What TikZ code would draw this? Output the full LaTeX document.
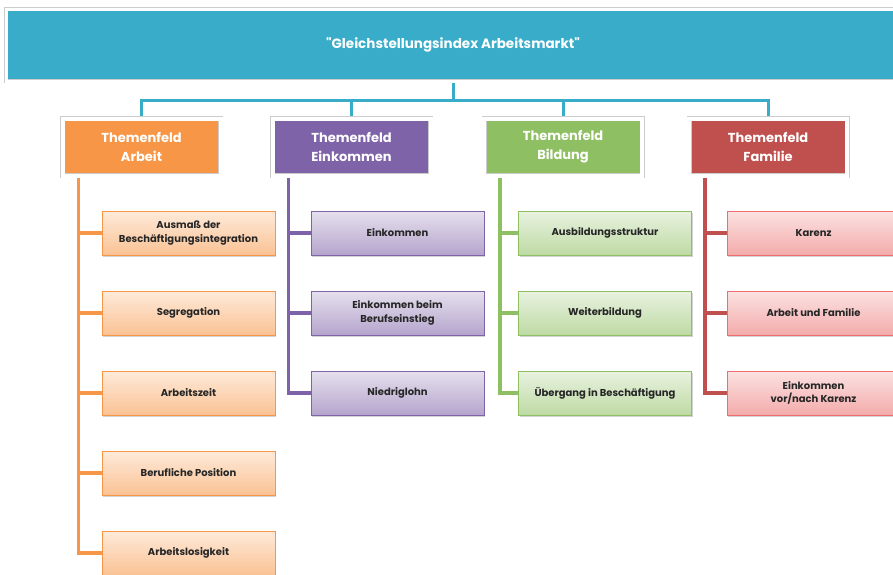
\documentclass[tikz,border=0pt]{standalone}
\usepackage{fontspec}
\setmainfont{Poppins}[Ligatures=TeXOff]
\usetikzlibrary{positioning,shadows,backgrounds}
\definecolor{titelfarbe}{HTML}{38ACC8}
\definecolor{arbeitfarbe}{HTML}{F79646}
\definecolor{einkommenfarbe}{HTML}{7F63A8}
\definecolor{bildungfarbe}{HTML}{8FBF63}
\definecolor{familiefarbe}{HTML}{C0504D}
\definecolor{familiehell}{HTML}{EC6E6E}
\definecolor{textgrau}{HTML}{262626}
\tikzset{
  titelbox/.style={rectangle, fill=titelfarbe, draw=black!20, double=white, double distance=3pt,
    line width=0.5pt, minimum width=894pt, minimum height=72pt, outer sep=0pt, text=white,
    font=\bfseries\fontsize{13.5}{16}\selectfont, drop shadow={opacity=0.35, shadow xshift=1pt, shadow yshift=-2pt}},
  feldbox/.style={rectangle, draw=black!20, double=white, double distance=4pt, line width=0.5pt,
    minimum width=158pt, minimum height=57pt, outer sep=0pt, align=center, text=white,
    font=\bfseries\fontsize{13}{19}\selectfont, drop shadow={opacity=0.35, shadow xshift=1pt, shadow yshift=-2pt}},
  themabox/.style={rectangle, draw=#1, top color=#1!20, bottom color=#1!58, line width=1pt,
    minimum width=173pt, minimum height=44pt, outer sep=0pt, align=center, text=textgrau,
    font=\bfseries\fontsize{10}{13.5}\selectfont, drop shadow={opacity=0.35, shadow xshift=1pt, shadow yshift=-2pt}},
  linie/.style={draw=#1, line width=3.5pt},
}
\begin{document}
\begin{tikzpicture}[x=1pt, y=-1pt, node distance=80pt]
    \useasboundingbox (0,0) rectangle (893,574);
    \node[titelbox] (titel) at (453,45) {"Gleichstellungsindex Arbeitsmarkt"};
    \node[feldbox, fill=arbeitfarbe] (arbeit) at (141.5,147) {Themenfeld\\Arbeit};
    \node[feldbox, fill=einkommenfarbe] (einkommen) at (351.5,147) {Themenfeld\\Einkommen};
    \node[feldbox, fill=bildungfarbe] (bildung) at (563,147) {Themenfeld\\Bildung};
    \node[feldbox, fill=familiefarbe] (familie) at (768,147) {Themenfeld\\Familie};

    \node[themabox=arbeitfarbe] (ausmass) at (188.5,233) {Ausmaß der\\Beschäftigungsintegration};
    \node[themabox=arbeitfarbe, below of=ausmass] (segregation) {Segregation};
    \node[themabox=arbeitfarbe, below of=segregation] (arbeitszeit) {Arbeitszeit};
    \node[themabox=arbeitfarbe, below of=arbeitszeit] (position) {Berufliche Position};
    \node[themabox=arbeitfarbe, below of=position] (arbeitslos) {Arbeitslosigkeit};

    \node[themabox=einkommenfarbe] (eink) at (397.5,233) {Einkommen};
    \node[themabox=einkommenfarbe, below of=eink] (einstieg) {Einkommen beim\\Berufseinstieg};
    \node[themabox=einkommenfarbe, below of=einstieg] (niedriglohn) {Niedriglohn};

    \node[themabox=bildungfarbe] (struktur) at (605,233) {Ausbildungsstruktur};
    \node[themabox=bildungfarbe, below of=struktur] (weiter) {Weiterbildung};
    \node[themabox=bildungfarbe, below of=weiter] (uebergang) {Übergang in Beschäftigung};

    \node[themabox=familiehell] (karenz) at (813.5,233) {Karenz};
    \node[themabox=familiehell, below of=karenz] (arbfam) {Arbeit und Familie};
    \node[themabox=familiehell, below of=arbfam] (vornach) {Einkommen\\vor/nach Karenz};

    \begin{scope}[on background layer]
        \draw[linie=titelfarbe, line width=3pt] (titel.south) -- ++(0,19.5) -| (arbeit.north);
        \draw[linie=titelfarbe, line width=3pt] (titel.south) -- ++(0,19.5) -| (einkommen.north);
        \draw[linie=titelfarbe, line width=3pt] (titel.south) -- ++(0,19.5) -| (bildung.north);
        \draw[linie=titelfarbe, line width=3pt] (titel.south) -- ++(0,19.5) -| (familie.north);

        \draw[linie=arbeitfarbe] ([xshift=16pt]arbeit.south west) |- (ausmass.west);
        \draw[linie=arbeitfarbe] ([xshift=16pt]arbeit.south west) |- (segregation.west);
        \draw[linie=arbeitfarbe] ([xshift=16pt]arbeit.south west) |- (arbeitszeit.west);
        \draw[linie=arbeitfarbe] ([xshift=16pt]arbeit.south west) |- (position.west);
        \draw[linie=arbeitfarbe] ([xshift=16pt]arbeit.south west) |- (arbeitslos.west);

        \draw[linie=einkommenfarbe] ([xshift=16pt]einkommen.south west) |- (eink.west);
        \draw[linie=einkommenfarbe] ([xshift=16pt]einkommen.south west) |- (einstieg.west);
        \draw[linie=einkommenfarbe] ([xshift=16pt]einkommen.south west) |- (niedriglohn.west);

        \draw[linie=bildungfarbe] ([xshift=16pt]bildung.south west) |- (struktur.west);
        \draw[linie=bildungfarbe] ([xshift=16pt]bildung.south west) |- (weiter.west);
        \draw[linie=bildungfarbe] ([xshift=16pt]bildung.south west) |- (uebergang.west);

        \draw[linie=familiefarbe] ([xshift=16pt]familie.south west) |- (karenz.west);
        \draw[linie=familiefarbe] ([xshift=16pt]familie.south west) |- (arbfam.west);
        \draw[linie=familiefarbe] ([xshift=16pt]familie.south west) |- (vornach.west);
    \end{scope}
\end{tikzpicture}
\end{document}
